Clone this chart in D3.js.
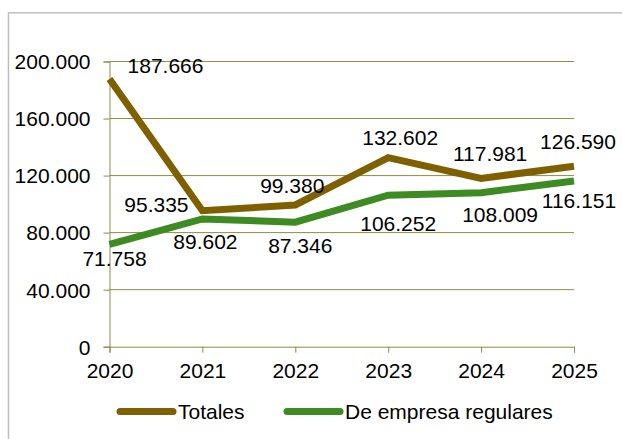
<!DOCTYPE html>
<html>
<head>
<meta charset="utf-8">
<script src="https://cdn.jsdelivr.net/npm/d3@7"></script>
<style>
  body { margin: 0; background: #fff; }
  svg text { font-family: "Liberation Sans", Arial, sans-serif; fill: #000; }
</style>
</head>
<body>
<svg id="chart" width="622" height="439"></svg>
<script>
var years = ['2020', '2021', '2022', '2023', '2024', '2025']
var totales = [187666, 95335, 99380, 132602, 117981, 126590]
var regulares = [71758, 89602, 87346, 106252, 108009, 116151]
var yTicks = [0, 40000, 80000, 120000, 160000, 200000]
var seriesNames = ['Totales', 'De empresa regulares']
var seriesColors = ['#7f6000', '#3e8a23']

// label nudges (dx, dy from the point), same order as the years
var totOffsets = [[56, -13], [-46, -6], [-3, -19], [12, -20], [9, -25], [4, -25]]
var regOffsets = [[5, 14], [3, 23], [5, 24], [10, 28], [19, 22], [5, 20]]

var svg = d3.select('#chart')
var margin = {left: 109.5, right: 48, top: 61.5, bottom: 92.3}
var width = 622 - margin.left - margin.right
var height = 439 - margin.top - margin.bottom
var fs = 21

var fmt = function(v){ return d3.format(',')(v).replace(/,/g, '.') }

// outer frame
svg.append('rect')
  .attr('x', 8.5).attr('y', 12.8)
  .attr('width', 640).attr('height', 440)
  .attr('fill', 'none').attr('stroke', '#bfbfbf').attr('stroke-width', 1.5)

var g = svg.append('g').attr('transform', 'translate(' + margin.left + ',' + margin.top + ')')

var x = d3.scalePoint().domain(years).range([0, width])
var y = d3.scaleLinear().domain([0, 200000]).range([height, 0])

var gridColor = '#8c8c45'

g.selectAll('line.grid').data(yTicks.slice(1)).enter().append('line')
  .attr('class', 'grid')
  .attr('x1', 0).attr('x2', width)
  .attr('y1', function(d){ return y(d) }).attr('y2', function(d){ return y(d) })
  .attr('stroke', gridColor).attr('stroke-width', 1)

var yAxis = g.append('g')
  .call(d3.axisLeft(y).tickValues(yTicks).tickFormat(fmt).tickSize(6).tickPadding(13))
var xAxis = g.append('g').attr('transform', 'translate(0,' + height + ')')
  .call(d3.axisBottom(x).tickSize(6).tickPadding(10))

;[yAxis, xAxis].forEach(function(ax){
  ax.select('.domain').attr('stroke', gridColor)
  ax.selectAll('.tick line').attr('stroke', gridColor)
  ax.selectAll('text').attr('font-size', fs).attr('font-family', '"Liberation Sans", Arial, sans-serif').attr('fill', '#000')
})
yAxis.selectAll('text').attr('dy', '0.35em')

var line = d3.line()
  .x(function(d, i){ return x(years[i]) })
  .y(function(d){ return y(d) })

var allSeries = [totales, regulares]
var allOffsets = [totOffsets, regOffsets]

allSeries.forEach(function(s, k){
  g.append('path')
    .datum(s)
    .attr('d', line)
    .attr('fill', 'none')
    .attr('stroke', seriesColors[k])
    .attr('stroke-width', 7)
    .attr('stroke-linejoin', 'miter')
})

allSeries.forEach(function(s, k){
  g.selectAll('text.lab' + k).data(s).enter().append('text')
    .attr('class', 'lab' + k)
    .attr('x', function(d, i){ return x(years[i]) + allOffsets[k][i][0] })
    .attr('y', function(d, i){ return y(d) + allOffsets[k][i][1] })
    .attr('text-anchor', 'middle')
    .attr('dy', '0.35em')
    .attr('font-size', fs)
    .text(fmt)
})

// legend
var legendX = [118, 285]
var legend = svg.selectAll('g.leg').data(seriesNames).enter().append('g')
  .attr('class', 'leg')
  .attr('transform', function(d, i){ return 'translate(' + legendX[i] + ',411.5)' })
legend.append('line')
  .attr('x1', 2).attr('x2', 55).attr('y1', 0).attr('y2', 0)
  .attr('stroke', function(d, i){ return seriesColors[i] })
  .attr('stroke-width', 7).attr('stroke-linecap', 'round')
legend.append('text')
  .attr('x', 60).attr('dy', '0.35em')
  .attr('font-size', fs)
  .text(function(d){ return d })
</script>
</body>
</html>
